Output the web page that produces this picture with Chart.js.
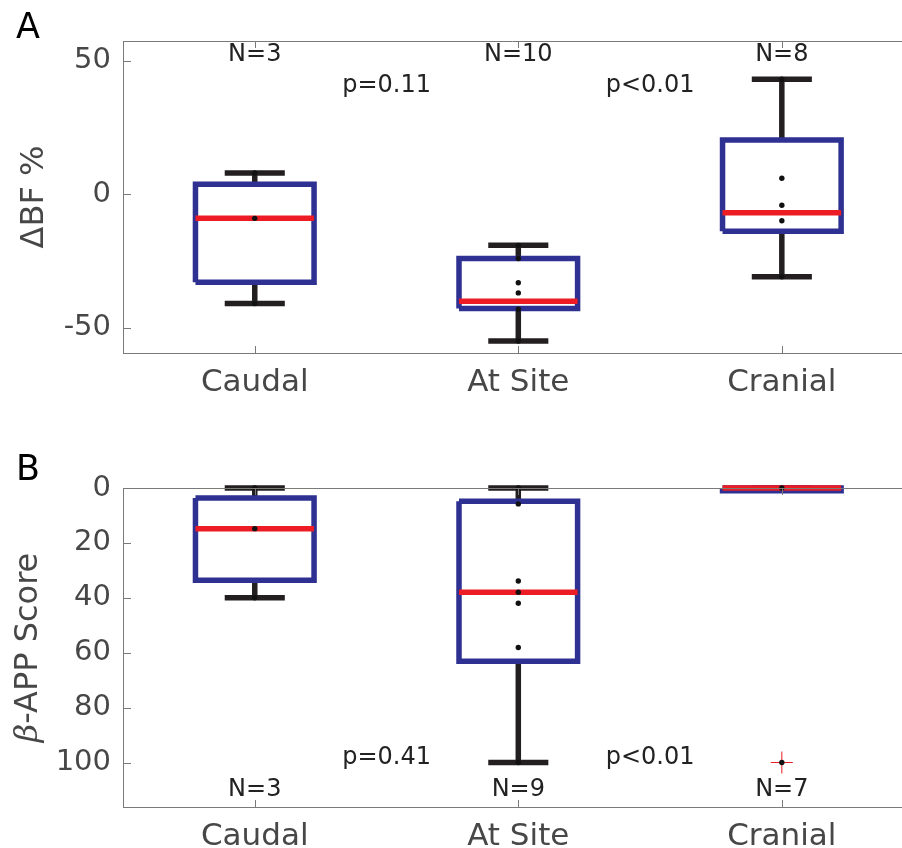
<!DOCTYPE html>
<html>
<head>
<meta charset="utf-8">
<script src="https://cdn.jsdelivr.net/npm/chart.js@4.4.0/dist/chart.umd.min.js"></script>
<style>
  html, body { margin: 0; padding: 0; background: #fff; overflow: hidden; }
  #wrap { position: relative; width: 902px; height: 848px; }
  canvas { position: absolute; left: 0; }
  #chartA { top: 0; }
  #chartB { top: 420px; }
</style>
</head>
<body>
<div id="wrap">
  <canvas id="chartA" width="902" height="420"></canvas>
  <canvas id="chartB" width="902" height="428"></canvas>
</div>
<script>
const groups = ['Caudal', 'At Site', 'Cranial'];
const xPos = [1, 2, 3];

// Panel A: change in blood flow (%)
const bfLow = [-41, -55, -31];
const bfQ1 = [-33, -42.8, -13.9];
const bfMedian = [-9.1, -40.1, -7];
const bfQ3 = [3.7, -24.1, 20.2];
const bfHigh = [7.9, -19.2, 43];
const bfPoints = [[7.9, -9.1, -41], [-19.2, -24.1, -33.2, -37, -43.1, -55], [43, 5.9, -4.2, -10, -31]];
const bfOutliers = [[], [], []];
const bfN = ['N=3', 'N=10', 'N=8'];
const bfP = ['p=0.11', 'p<0.01'];
const bfTicks = [-50, 0, 50];

// Panel B: beta-APP score
const appLow = [0, 0, 0];
const appQ1 = [3.6, 4.8, 0];
const appMedian = [14.8, 38, 0];
const appQ3 = [33.6, 63.1, 1];
const appHigh = [40, 100, 0];
const appPoints = [[0, 14.8, 40], [0, 5.8, 33.9, 38, 42, 58.1, 100], [0, 100]];
const appOutliers = [[], [], [100]];
const appN = ['N=3', 'N=9', 'N=7'];
const appP = ['p=0.41', 'p<0.01'];
const appTicks = [0, 20, 40, 60, 80, 100];

const BLUE = '#2e3192';
const RED = '#ed1c24';
const INK = '#231f20';
const AXIS = '#7a7a7a';
const TXT = '#474747';
const FONT = 'DejaVu Sans';

function lineSet(data, color, order) {
  return {
    type: 'scatter', data, showLine: true, spanGaps: false,
    borderColor: color, borderWidth: 5.5, borderCapStyle: 'butt', borderJoinStyle: 'miter',
    pointRadius: 0, pointHoverRadius: 0, tension: 0, fill: false, clip: false, order
  };
}

function boxDatasets(lo, q1, med, q3, hi, pts, outl) {
  const half = 0.225, cap = 0.114;
  const boxes = [], whisk = [], meds = [], dots = [], crosses = [];
  xPos.forEach((x, i) => {
    boxes.push({x: x - half, y: q1[i]}, {x: x + half, y: q1[i]}, {x: x + half, y: q3[i]},
               {x: x - half, y: q3[i]}, {x: x - half, y: q1[i]}, {x, y: null});
    whisk.push({x, y: lo[i]}, {x, y: q1[i]}, {x, y: null},
               {x, y: q3[i]}, {x, y: hi[i]}, {x, y: null},
               {x: x - cap, y: lo[i]}, {x: x + cap, y: lo[i]}, {x, y: null},
               {x: x - cap, y: hi[i]}, {x: x + cap, y: hi[i]}, {x, y: null});
    meds.push({x: x - half, y: med[i]}, {x: x + half, y: med[i]}, {x, y: null});
    pts[i].forEach(v => dots.push({x, y: v}));
    outl[i].forEach(v => crosses.push({x, y: v}));
  });
  return [
    {type: 'scatter', data: dots, pointRadius: 2.7, pointBackgroundColor: '#111', pointBorderWidth: 0, clip: false, order: 0},
    {type: 'scatter', data: crosses, pointStyle: 'cross', pointRadius: 11, pointBorderColor: RED, pointBorderWidth: 1, clip: false, order: 1},
    lineSet(meds, RED, 2),
    lineSet(boxes, BLUE, 3),
    lineSet(whisk, INK, 4)
  ];
}

// frame, inside ticks, annotations, axis title and panel letter
const framePlugin = {
  id: 'frame',
  afterDraw(chart, args, opts) {
    const {ctx, chartArea: a, scales: {x, y}} = chart;
    ctx.save();
    ctx.strokeStyle = AXIS;
    ctx.lineWidth = 1;
    ctx.beginPath();
    ctx.moveTo(a.left, a.top + 0.5);
    ctx.lineTo(a.right, a.top + 0.5);
    x.ticks.forEach(t => {
      const px = Math.round(x.getPixelForValue(t.value)) + 0.5;
      ctx.moveTo(px, a.bottom); ctx.lineTo(px, a.bottom - 7);
      ctx.moveTo(px, a.top); ctx.lineTo(px, a.top + 7);
    });
    y.ticks.forEach(t => {
      const py = Math.round(y.getPixelForValue(t.value)) + 0.5;
      ctx.moveTo(a.left, py); ctx.lineTo(a.left + 8, py);
    });
    ctx.stroke();

    ctx.fillStyle = '#222';
    ctx.font = '24px "' + FONT + '"';
    ctx.textAlign = 'center';
    ctx.textBaseline = 'middle';
    opts.nText.forEach((s, i) => ctx.fillText(s, x.getPixelForValue(xPos[i]), y.getPixelForValue(opts.nY)));
    opts.pText.forEach((s, i) => ctx.fillText(s, x.getPixelForValue((xPos[i] + xPos[i + 1]) / 2), y.getPixelForValue(opts.pY)));

    // y axis title
    ctx.save();
    ctx.translate(opts.titleX, (a.top + a.bottom) / 2);
    ctx.rotate(-Math.PI / 2);
    ctx.fillStyle = TXT;
    ctx.textBaseline = 'alphabetic';
    ctx.textAlign = 'left';
    let w = 0;
    opts.title.forEach(p => { ctx.font = p.font; w += ctx.measureText(p.text).width; });
    let cx = -w / 2;
    opts.title.forEach(p => { ctx.font = p.font; ctx.fillText(p.text, cx, 0); cx += ctx.measureText(p.text).width; });
    ctx.restore();

    ctx.fillStyle = '#000';
    ctx.font = '35px "' + FONT + '"';
    ctx.textAlign = 'left';
    ctx.textBaseline = 'alphabetic';
    ctx.fillText(opts.letter, opts.letterX, opts.letterY);
    ctx.restore();
  }
};

function makeChart(id, cfg) {
  return new Chart(document.getElementById(id), {
    data: {datasets: boxDatasets(cfg.lo, cfg.q1, cfg.med, cfg.q3, cfg.hi, cfg.pts, cfg.outl)},
    options: {
      responsive: false,
      animation: false,
      events: [],
      layout: {autoPadding: false, padding: {top: cfg.top, left: 0, right: 0, bottom: 0}},
      scales: {
        x: {
          type: 'linear', min: 0.5, max: 3.456, offset: false,
          afterBuildTicks: s => { s.ticks = xPos.map(v => ({value: v})); },
          afterFit: s => { s.height = cfg.xHeight; s.paddingLeft = 0; s.paddingRight = 0; },
          grid: {drawOnChartArea: false, drawTicks: false},
          border: {display: true, color: AXIS, width: 1},
          ticks: {
            callback: (v, i) => groups[i],
            font: {family: FONT, size: 31}, color: TXT, padding: 11,
            maxRotation: 0, autoSkip: false
          }
        },
        y: {
          type: 'linear', min: cfg.yMin, max: cfg.yMax, reverse: cfg.reverse,
          afterBuildTicks: s => { s.ticks = cfg.ticks.map(v => ({value: v})); },
          afterFit: s => { s.width = 123; s.paddingTop = 0; s.paddingBottom = 0; },
          grid: {drawOnChartArea: false, drawTicks: false},
          border: {display: true, color: AXIS, width: 1},
          ticks: {font: {family: FONT, size: 29}, color: TXT, padding: 12}
        }
      },
      plugins: {
        legend: {display: false},
        tooltip: {enabled: false},
        frame: {
          nText: cfg.nText, pText: cfg.pText, nY: cfg.nY, pY: cfg.pY,
          title: cfg.title, titleX: cfg.titleX,
          letter: cfg.letter, letterX: 16, letterY: cfg.letterY
        }
      }
    },
    plugins: [framePlugin]
  });
}

makeChart('chartA', {
  lo: bfLow, q1: bfQ1, med: bfMedian, q3: bfQ3, hi: bfHigh, pts: bfPoints, outl: bfOutliers,
  top: 41, xHeight: 67, yMin: -59.5, yMax: 57.3, reverse: false, ticks: bfTicks,
  nText: bfN, pText: bfP, nY: 52, pY: 40.4,
  title: [{text: '\u0394BF %', font: '32px "DejaVu Sans"'}], titleX: 43,
  letter: 'A', letterY: 38
});

makeChart('chartB', {
  lo: appLow, q1: appQ1, med: appMedian, q3: appQ3, hi: appHigh, pts: appPoints, outl: appOutliers,
  top: 68, xHeight: 41, yMin: 0, yMax: 116.2, reverse: true, ticks: appTicks,
  nText: appN, pText: appP, nY: 109.8, pY: 98.3,
  title: [{text: '\u03b2', font: 'italic 32px "DejaVu Serif"'}, {text: '-APP Score', font: '32px "DejaVu Sans"'}],
  titleX: 37,
  letter: 'B', letterY: 60
});
</script>
</body>
</html>
